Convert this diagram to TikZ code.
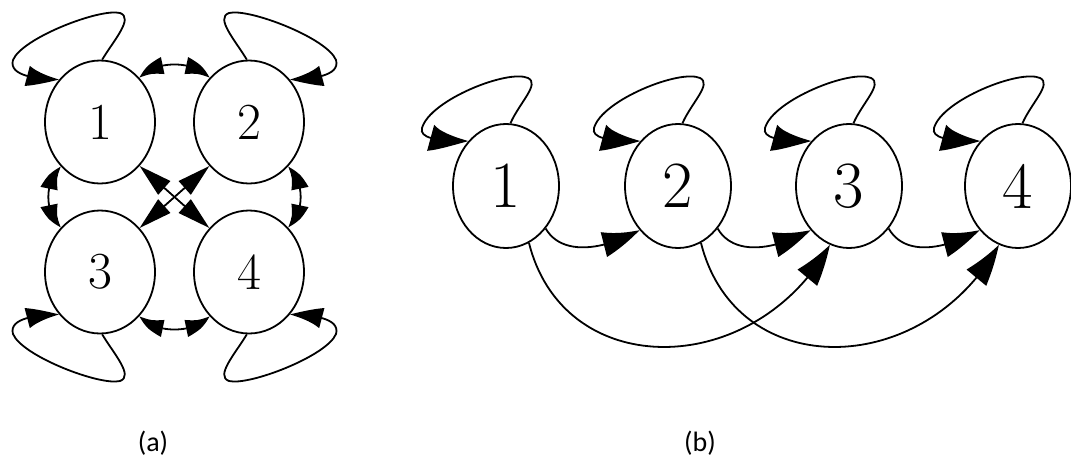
\documentclass[tikz,border=0pt]{standalone}
\usepackage{fontspec}
\newfontfamily\capfont{Carlito}
\usetikzlibrary{shapes.geometric,arrows.meta,bending}
\tikzset{
  vtx/.style={draw,ellipse,line width=1.8pt,inner sep=0pt},
  lv/.style={vtx,minimum width=110pt,minimum height=123pt,font=\fontsize{52}{60}\selectfont},
  rv/.style={vtx,minimum width=106pt,minimum height=124pt,font=\fontsize{66}{70}\selectfont},
  captext/.style={font=\capfont\fontsize{28}{32}\selectfont},
  lloop/.style={line width=1.8pt,-{Triangle[length=36pt,width=20pt,bend]}},
  lshort/.style={line width=1.8pt,{Triangle[length=25pt,width=17pt,bend]}-{Triangle[length=25pt,width=17pt,bend]}},
  ldiag/.style={line width=1.8pt,{Triangle[length=33pt,width=18pt]}-{Triangle[length=33pt,width=18pt]}},
  rloop/.style={line width=1.8pt,-{Triangle[length=45pt,width=26pt,bend]}},
  redge/.style={line width=1.8pt,-{Triangle[length=41pt,width=25pt,bend]}}
}
\newcommand\leftloop[5]{%
  \begin{scope}[shift={(#1.center)},xscale=#2,yscale=#3]
    \draw[lloop] (#1.#4) .. controls (14,-82) and (34,-104) .. (20,-109)
      .. controls (0,-114) and (-78,-84) .. (-87,-62)
      .. controls (-91,-48) and (-70,-43) .. (#1.#5);
  \end{scope}}
\newcommand\rightloop[1]{%
  \begin{scope}[shift={(#1.center)}]
    \draw[rloop] (#1.86) .. controls (14,-84) and (34,-102) .. (22,-108)
      .. controls (2,-117) and (-76,-86) .. (-84,-58)
      .. controls (-87,-47) and (-66,-45) .. (#1.130);
  \end{scope}}
\begin{document}
\begin{tikzpicture}[x=1pt,y=-1pt]
\path[use as bounding box] (0,0) rectangle (1071,463);
% (a)
\node[lv] (L1) at (100,122) {1};
\node[lv] (L2) at (249,122) {2};
\node[lv] (L3) at (100,272) {3};
\node[lv] (L4) at (249,272) {4};
\leftloop{L1}{1}{1}{88}{134}
\leftloop{L2}{-1}{1}{92}{46}
\leftloop{L3}{1}{-1}{-88}{-134}
\leftloop{L4}{-1}{-1}{-92}{-46}
\draw[lshort] (L1.48) .. controls +(14,-18) and +(-14,-18) .. (L2.132);
\draw[lshort] (L3.-48) .. controls +(14,18) and +(-14,18) .. (L4.-132);
\draw[lshort] (L1.229) .. controls +(-17,14) and +(-17,-14) .. (L3.131);
\draw[lshort] (L2.-49) .. controls +(17,14) and +(17,-14) .. (L4.49);
\draw[ldiag] (L1.-48) -- (L4.132);
\draw[ldiag] (L2.-132) -- (L3.48);
\node[captext] (ca) at (153,443) {(a)};
% (b)
\node[rv] (R1) at (506,186) {1};
\node[rv] (R2) at (678,186) {2};
\node[rv] (R3) at (849,186) {3};
\node[rv] (R4) at (1018,186) {4};
\rightloop{R1}
\rightloop{R2}
\rightloop{R3}
\rightloop{R4}
\draw[redge] (R1.-47) .. controls +(15,26) and +(-40,22) .. (R2.-131);
\draw[redge] (R2.-47) .. controls +(15,26) and +(-40,22) .. (R3.-131);
\draw[redge] (R3.-47) .. controls +(15,26) and +(-40,22) .. (R4.-131);
\draw[redge] (R1.-68) .. controls +(35,140) and +(-75,135) .. (R3.-108);
\draw[redge] (R2.-68) .. controls +(35,140) and +(-75,135) .. (R4.-108);
\node[captext] (cb) at (700,443) {(b)};
\end{tikzpicture}
\end{document}
